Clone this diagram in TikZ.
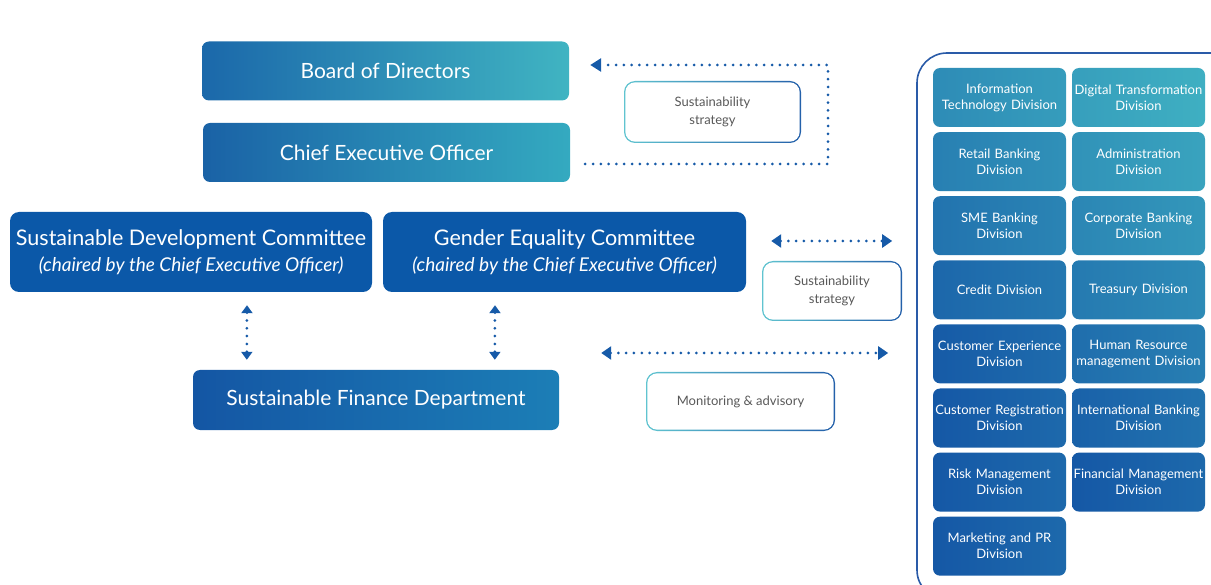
\documentclass[tikz,border=0pt]{standalone}
\usepackage{fontspec}
\setmainfont{Lato}
\usetikzlibrary{arrows.meta,positioning,calc}
\definecolor{deepblue}{RGB}{11,88,168}
\definecolor{boardL}{RGB}{27,104,170}
\definecolor{boardR}{RGB}{64,180,194}
\definecolor{ceoL}{RGB}{26,98,166}
\definecolor{ceoR}{RGB}{52,170,192}
\definecolor{sfdL}{RGB}{20,86,164}
\definecolor{sfdR}{RGB}{28,126,182}
\definecolor{linkblue}{RGB}{22,90,168}
\definecolor{tagteal}{RGB}{96,196,208}
\definecolor{tagblue}{RGB}{36,96,170}
\definecolor{panelblue}{RGB}{42,91,168}
\definecolor{unitteal}{RGB}{66,182,196}
\definecolor{unitblue}{RGB}{21,88,166}
\tikzstyle{topbox}=[rounded corners=7pt, minimum width=367pt, minimum height=59pt, text=white, font=\fontsize{21}{25}\selectfont]
\tikzstyle{committee}=[rounded corners=9pt, fill=deepblue, minimum width=362pt, minimum height=80pt, text=white, align=center, inner sep=0pt]
\tikzstyle{division}=[rounded corners=7pt, minimum width=133pt, minimum height=59pt, text width=131pt, align=center, text=white, font=\fontsize{13}{16}\selectfont, inner sep=0pt]
\tikzstyle{tagback}=[rounded corners=11pt, left color=tagteal, right color=tagblue, inner sep=0pt]
\tikzstyle{tagbox}=[rounded corners=10pt, fill=white, text=black!65, align=center, font=\fontsize{13}{18}\selectfont, inner sep=0pt]
\tikzstyle{dotlink}=[draw=linkblue, line width=3pt, line cap=round, dash pattern=on 0pt off 7.8pt]
\tikzstyle{panel}=[draw=panelblue, line width=1.6pt, rounded corners=30pt, fill=white, minimum width=323pt, minimum height=547pt]

\begin{document}
\begin{tikzpicture}[x=1pt, y=-1pt]
   \useasboundingbox (0,0) rectangle (1211,585);
   \clip (0,0) rectangle (1211,585);

   % top of the bank
   \node[topbox, left color=boardL, right color=boardR] (board) at (385.5,71) {Board of Directors};
   \node[topbox, left color=ceoL, right color=ceoR] (ceo) at (386.5,152.5) {Chief Executive Officer};

   % committees
   \node[committee] (sdc) at (191,252) {{\fontsize{21.5}{24}\selectfont Sustainable Development Committee}\\[7pt]{\fontsize{19}{20}\selectfont\itshape (chaired by the Chief Executive Officer)}};
   \node[committee, minimum width=363pt] (gec) at (564.5,252) {{\fontsize{21.5}{24}\selectfont Gender Equality Committee}\\[7pt]{\fontsize{19}{20}\selectfont\itshape (chaired by the Chief Executive Officer)}};

   \node[topbox, minimum width=366pt, minimum height=60pt, left color=sfdL, right color=sfdR] (sfd) at (376,400) {Sustainable Finance Department};

   % divisions
   \node[panel] (units) at (1078.5,326.5) {};
   \foreach \row/\col/\name/\label in {0/0/itd/{Information\\Technology Division}, 0/1/dtd/{Digital Transformation\\Division},
        1/0/rbd/{Retail Banking\\Division}, 1/1/adm/{Administration\\Division},
        2/0/sme/{SME Banking\\Division}, 2/1/cbd/{Corporate Banking\\Division},
        3/0/crd/{Credit Division}, 3/1/trd/{Treasury Division},
        4/0/cxd/{Customer Experience\\Division}, 4/1/hrd/{Human Resource\\management Division},
        5/0/cgd/{Customer Registration\\Division}, 5/1/ibd/{International Banking\\Division},
        6/0/rmd/{Risk Management\\Division}, 6/1/fmd/{Financial Management\\Division},
        7/0/mpr/{Marketing and PR\\Division}}
   {
        \pgfmathtruncatemacro{\mixL}{max(0,55+20*\col-13*\row)}
        \pgfmathtruncatemacro{\mixR}{min(100,\mixL+18)}
        \node[division, left color=unitteal!\mixL!unitblue, right color=unitteal!\mixR!unitblue] (\name) at (999.5+139*\col, 97.5+64.1*\row) {\label};
   }

   % labels on the links
   \foreach \pos/\name/\w/\h/\label in {{(712.5,112)}/tagA/177/62/{Sustainability\\strategy},
        {(832,291)}/tagB/140/60/{Sustainability\\strategy},
        {(740.5,401.5)}/tagC/189/59/{Monitoring \& advisory}}
   {
        \node[tagback, minimum width=\w pt, minimum height=\h pt] (\name back) at \pos {};
        \node[tagbox, minimum width=\w pt-2.6pt, minimum height=\h pt-2.6pt] (\name) at \pos {\label};
   }

   % link points
   \coordinate (ceolink) at ([xshift=15pt,yshift=-11.5pt]ceo.east);
   \coordinate (boardlink) at ([xshift=21pt,yshift=6pt]board.east);
   \coordinate (bend) at (828,65);
   \coordinate (sdcA) at ([xshift=56pt,yshift=-13pt]sdc.south);
   \coordinate (sfdA) at ([xshift=54pt,yshift=10pt]sfd.north west);
   \coordinate (gecA) at ([xshift=-69.5pt,yshift=-13pt]gec.south);
   \coordinate (sfdC) at ([xshift=302pt,yshift=10pt]sfd.north west);
   \coordinate (gecB) at ([xshift=25pt,yshift=11pt]gec.east);
   \coordinate (unitsB) at ([xshift=-24pt,yshift=85.5pt]units.west);
   \coordinate (sfdB) at ([xshift=42pt,yshift=47pt]sfd.east);
   \coordinate (unitsC) at ([xshift=-28pt,yshift=-26.5pt]units.west);

   % dotted links
   \draw[dotlink, -{Triangle[length=11pt,width=13pt]}] (ceolink) -| (bend) -- (boardlink);
   \foreach \source/\dest in {sdcA/sfdA, gecA/sfdC}
        \draw[dotlink, {Triangle[length=8pt,width=11pt]}-{Triangle[length=8pt,width=11pt]}] (\source) -- (\dest);
   \foreach \source/\dest in {gecB/unitsB, sfdB/unitsC}
        \draw[dotlink, {Triangle[length=10pt,width=13pt]}-{Triangle[length=10pt,width=13pt]}] (\source) -- (\dest);
\end{tikzpicture}
\end{document}
